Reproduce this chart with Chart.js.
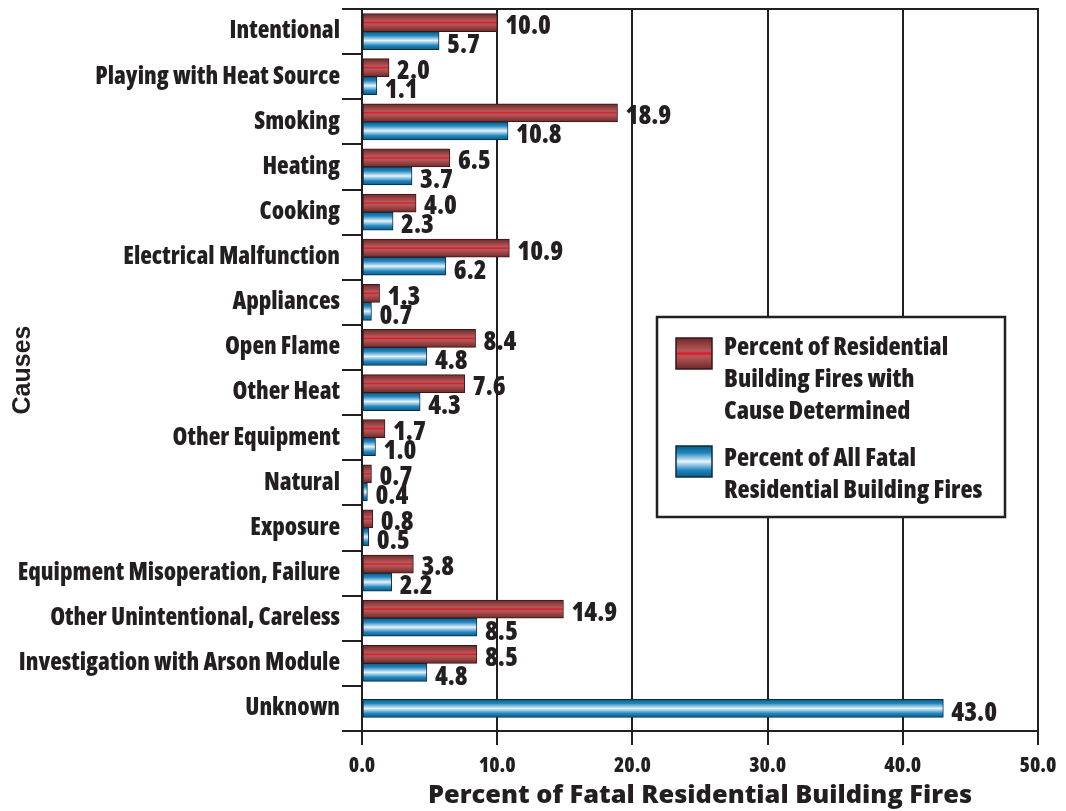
<!DOCTYPE html>
<html>
<head>
<meta charset="utf-8">
<script src="https://cdn.jsdelivr.net/npm/chart.js@4.4.1/dist/chart.umd.min.js"></script>
<style>
  html, body { margin: 0; padding: 0; background: #fff; }
  #wrap { width: 1066px; height: 811px; position: relative; }
</style>
</head>
<body>
<div id="wrap"><canvas id="chart"></canvas></div>
<script>
// data
const causes = [
    'Intentional', 'Playing with Heat Source', 'Smoking', 'Heating', 'Cooking',
    'Electrical Malfunction', 'Appliances', 'Open Flame', 'Other Heat', 'Other Equipment',
    'Natural', 'Exposure', 'Equipment Misoperation, Failure', 'Other Unintentional, Careless',
    'Investigation with Arson Module', 'Unknown'
];
const residentialPct = [10.0, 2.0, 18.9, 6.5, 4.0, 10.9, 1.3, 8.4, 7.6, 1.7, 0.7, 0.8, 3.8, 14.9, 8.5, null];
const fatalPct = [5.7, 1.1, 10.8, 3.7, 2.3, 6.2, 0.7, 4.8, 4.3, 1.0, 0.4, 0.5, 2.2, 8.5, 4.8, 43.0];
const xTicks = [0, 10, 20, 30, 40, 50];
const legendLines = [
    ['Percent of Residential', 'Building Fires with', 'Cause Determined'],
    ['Percent of All Fatal', 'Residential Building Fires']
];

const INK = '#231f20';
const FONT = '"Open Sans", "DejaVu Sans Condensed", sans-serif';
const NARROW = '800 condensed';

// colour stops for the shaded bars
const redStops = [[0, '#6a2a2c'], [0.2, '#94403f'], [0.42, '#b8585a'], [0.5, '#dc1a2c'], [0.58, '#b8585a'], [0.8, '#94403f'], [1, '#6a2a2c']];
const blueStops = [[0, '#0b5a86'], [0.22, '#1f86bf'], [0.5, '#e6f3fb'], [0.78, '#1f86bf'], [1, '#0b5a86']];
const borderCols = ['#3a1618', '#0c2c42'];

function shade(ctx, top, bottom, stops) {
    const g = ctx.createLinearGradient(0, top, 0, bottom);
    stops.forEach(s => g.addColorStop(s[0], s[1]));
    return g;
}

// gradient fill for each bar, from the bar element's own geometry
const barShading = {
    id: 'barShading',
    beforeDatasetsDraw(chart) {
        chart.data.datasets.forEach((ds, di) => {
            const meta = chart.getDatasetMeta(di);
            meta.data.forEach(el => {
                if (!el.options) return;
                const h = el.height;
                el.options.backgroundColor = shade(chart.ctx, el.y - h / 2, el.y + h / 2, di === 0 ? redStops : blueStops);
            });
        });
    }
};

// value labels at the end of bars
const valueLabels = {
    id: 'valueLabels',
    afterDatasetsDraw(chart) {
        const ctx = chart.ctx;
        ctx.save();
        ctx.font = NARROW + ' 26px ' + FONT;
        ctx.fillStyle = INK;
        ctx.textBaseline = 'middle';
        ctx.textAlign = 'left';
        chart.data.datasets.forEach((ds, di) => {
            const meta = chart.getDatasetMeta(di);
            meta.data.forEach((el, i) => {
                const v = ds.data[i];
                if (v === null || v === undefined) return;
                ctx.fillText(v.toFixed(1), el.x + 8, el.y + (di === 0 ? 4 : 5));
            });
        });
        ctx.restore();
    }
};

// top frame line and the legend box
const frameAndLegend = {
    id: 'frameAndLegend',
    afterDraw(chart) {
        const ctx = chart.ctx;
        const a = chart.chartArea;
        ctx.save();
        ctx.strokeStyle = INK;
        ctx.lineWidth = 2;
        ctx.beginPath();
        ctx.moveTo(a.left - 20, a.top);
        ctx.lineTo(a.right + 1, a.top);
        ctx.stroke();

        // legend
        const bx = a.left + 295, by = a.top + 308, bw = 348, bh = 200;
        ctx.fillStyle = '#fff';
        ctx.fillRect(bx, by, bw, bh);
        ctx.lineWidth = 2.5;
        ctx.strokeRect(bx, by, bw, bh);

        const swatches = [
            { y: by + 21, stops: redStops, border: borderCols[0], base: by + 38 },
            { y: by + 129, stops: blueStops, border: borderCols[1], base: by + 149 }
        ];
        swatches.forEach((s, k) => {
            ctx.fillStyle = shade(ctx, s.y, s.y + 31, s.stops);
            ctx.fillRect(bx + 19, s.y, 36, 31);
            ctx.lineWidth = 1.5;
            ctx.strokeStyle = s.border;
            ctx.strokeRect(bx + 19, s.y, 36, 31);
            ctx.fillStyle = INK;
            ctx.font = NARROW + ' 25px ' + FONT;
            ctx.textBaseline = 'alphabetic';
            ctx.textAlign = 'left';
            legendLines[k].forEach((line, j) => {
                ctx.fillText(line, bx + 67, s.base + j * 32);
            });
        });
        ctx.restore();
    }
};

const ctx = document.getElementById('chart').getContext('2d');
new Chart(ctx, {
    type: 'bar',
    data: {
        labels: causes,
        datasets: [
            {
                label: legendLines[0].join(' '),
                data: residentialPct,
                backgroundColor: () => '#b8585a',
                borderColor: borderCols[0],
                borderWidth: 1,
                borderSkipped: false,
                barThickness: 18,
                skipNull: true
            },
            {
                label: legendLines[1].join(' '),
                data: fatalPct,
                backgroundColor: () => '#1f86bf',
                borderColor: borderCols[1],
                borderWidth: 1,
                borderSkipped: false,
                barThickness: 18,
                skipNull: true
            }
        ]
    },
    options: {
        indexAxis: 'y',
        responsive: true,
        maintainAspectRatio: false,
        animation: false,
        layout: { padding: { top: 9, right: 28, left: 0, bottom: 0 } },
        scales: {
            x: {
                min: 0,
                max: 50,
                afterBuildTicks: scale => { scale.ticks = xTicks.map(v => ({ value: v })); },
                afterFit: scale => { scale.height = 80; },
                grid: { color: INK, lineWidth: 2, tickLength: 14 },
                border: { display: true, color: INK, width: 2 },
                ticks: {
                    color: INK,
                    padding: 8,
                    font: { family: FONT, weight: NARROW, size: 21 },
                    callback: v => Number(v).toFixed(1)
                },
                title: {
                    display: true,
                    text: 'Percent of Fatal Residential Building Fires',
                    color: INK,
                    font: { family: FONT, weight: '800', size: 25.4 },
                    padding: { top: 4, bottom: 0 }
                }
            },
            y: {
                afterFit: scale => { scale.width = 362; },
                grid: { color: INK, lineWidth: 2, tickLength: 20, drawOnChartArea: false, offset: true },
                border: { display: true, color: INK, width: 2 },
                ticks: {
                    color: INK,
                    padding: 2,
                    autoSkip: false,
                    font: { family: FONT, weight: NARROW, size: 24, lineHeight: 0.4 }
                },
                title: {
                    display: true,
                    text: 'Causes',
                    color: INK,
                    font: { family: '"Liberation Sans", Arial, sans-serif', weight: 'bold', size: 25 },
                    padding: { top: 8, bottom: 0 }
                }
            }
        },
        plugins: {
            legend: { display: false },
            tooltip: { enabled: false }
        }
    },
    plugins: [barShading, valueLabels, frameAndLegend]
});
</script>
</body>
</html>
